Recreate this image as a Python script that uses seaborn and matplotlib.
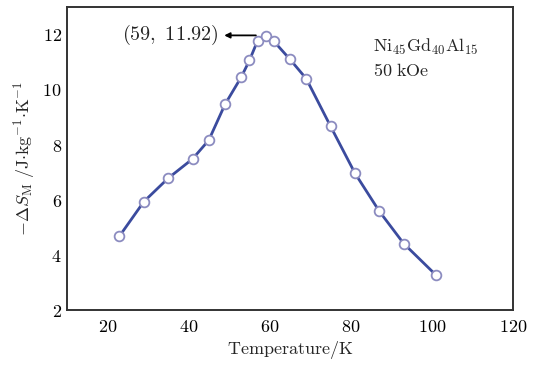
import matplotlib
matplotlib.use("Agg")
import matplotlib.pyplot as plt
import seaborn as sns
import pandas as pd
from matplotlib.ticker import MultipleLocator, FuncFormatter

temperature = [23, 29, 35, 41, 45, 49, 53, 55, 57, 59, 61, 65, 69, 75, 81, 87, 93, 101]
delta_s = [4.68, 5.93, 6.78, 7.48, 8.16, 9.46, 10.45, 11.05, 11.76, 11.92, 11.75,
           11.09, 10.39, 8.66, 6.96, 5.58, 4.41, 3.26]
peak = (59, 11.92)
x_ticks = [20, 40, 60, 80, 100, 120]
y_ticks = [2, 4, 6, 8, 10, 12]

sns.set_style("white")
plt.rcParams["mathtext.fontset"] = "cm"
plt.rcParams["font.family"] = ["DejaVu Serif"]

df = pd.DataFrame({"T": temperature, "S": delta_s})

fig = plt.figure(figsize=(5.37, 3.65), dpi=100)
ax = fig.add_axes([0.1242, 0.1507, 0.9559 - 0.1242, 0.9816 - 0.1507])

sns.lineplot(data=df, x="T", y="S", ax=ax, color="#3b4b9e", linewidth=2.0,
             marker="o", markersize=7, markerfacecolor="white",
             markeredgecolor="#8c8cc0", markeredgewidth=1.3)

ax.set_xlim(10, 120)
ax.set_ylim(2, 13)
ax.set_xticks(x_ticks)
ax.set_yticks(y_ticks)
ax.xaxis.set_minor_locator(MultipleLocator(10))
ax.yaxis.set_minor_locator(MultipleLocator(1))
fmt = FuncFormatter(lambda v, p: f"${v:g}$")
ax.xaxis.set_major_formatter(fmt)
ax.yaxis.set_major_formatter(fmt)
ax.tick_params(axis="both", which="both", direction="in", labelsize=13,
               color="#333333", labelcolor="black")
ax.tick_params(which="major", length=4, width=1.2)
ax.tick_params(which="minor", length=2.5, width=1.0)
ax.tick_params(axis="x", pad=6)
for sp in ax.spines.values():
    sp.set_color("#333333")
    sp.set_linewidth(1.4)

ax.set_xlabel(r"$\mathrm{Temperature/K}$", fontsize=13, labelpad=2)
ax.set_ylabel(r"$-\Delta S_{\rm M}\ /\mathrm{J{\cdot}kg^{-1}{\cdot}K^{-1}}$", fontsize=13, labelpad=4)

ax.text(35.5, 11.96, rf"$({peak[0]},\ {peak[1]:.2f})$", ha="center", va="center", fontsize=14.5)
ax.annotate("", xy=(48.8, 11.96), xytext=(56.6, 11.96),
            arrowprops=dict(arrowstyle="-|>", color="black", lw=1.3, mutation_scale=8,
                            shrinkA=0, shrinkB=0))

ax.text(85.5, 11.53, r"$\mathrm{Ni_{45}Gd_{40}Al_{15}}$", fontsize=13, va="center", ha="left")
ax.text(85.5, 10.67, r"$\mathrm{50\ kOe}$", fontsize=13, va="center", ha="left")

fig.savefig("out.png", dpi=100)
